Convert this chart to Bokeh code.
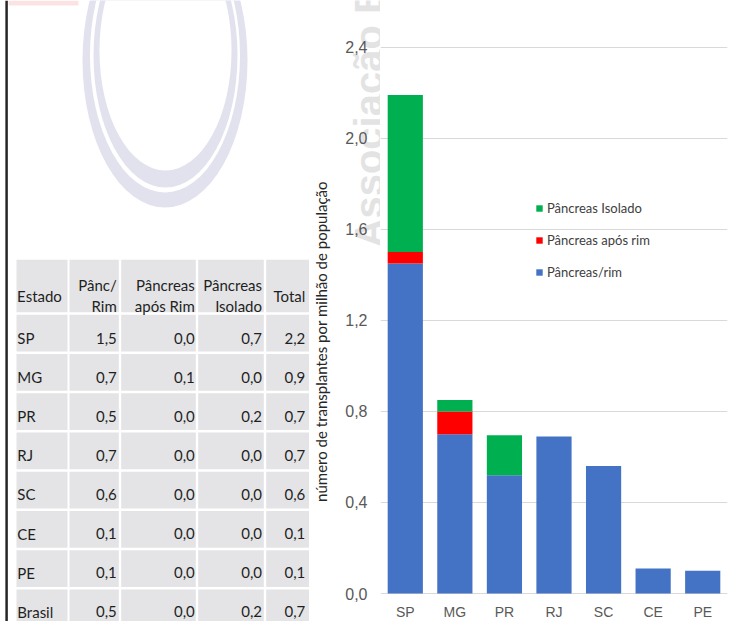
import math
from bokeh.plotting import figure
from bokeh.models import (Range1d, FactorRange, FixedTicker, Legend, LegendItem,
                          ColumnDataSource)
from bokeh.layouts import row
from bokeh.core.properties import value
from bokeh.embed import file_html
from bokeh.resources import INLINE

# ---------------- data ----------------
estados = ["SP", "MG", "PR", "RJ", "SC", "CE", "PE"]
panc_rim = [1.45, 0.70, 0.52, 0.69, 0.56, 0.11, 0.10]
panc_apos_rim = [0.05, 0.10, 0.0, 0.0, 0.0, 0.0, 0.0]
panc_isolado = [0.69, 0.05, 0.175, 0.0, 0.0, 0.0, 0.0]
series_names = ["Pâncreas/rim", "Pâncreas após rim", "Pâncreas Isolado"]
series_colors = ["#4472c4", "#ff0000", "#00b050"]
y_ticks = [0.0, 0.4, 0.8, 1.2, 1.6, 2.0, 2.4]
y_title = "número de transplantes por milhão de população"
watermark = "Associação B"

tabela_cabecalho = ["Estado", "Pânc/\nRim", "Pâncreas\napós Rim", "Pâncreas\nIsolado", "Total"]
tabela_estados = ["SP", "MG", "PR", "RJ", "SC", "CE", "PE", "Brasil"]
tabela_panc_rim = [1.5, 0.7, 0.5, 0.7, 0.6, 0.1, 0.1, 0.5]
tabela_apos_rim = [0.0, 0.1, 0.0, 0.0, 0.0, 0.0, 0.0, 0.0]
tabela_isolado = [0.7, 0.0, 0.2, 0.0, 0.0, 0.0, 0.0, 0.2]
tabela_total = [2.2, 0.9, 0.7, 0.7, 0.6, 0.1, 0.1, 0.7]

# ---------------- layout constants (px) ----------------
W, H = 734, 621
LEFT_W = 380               # left panel: table, axis title, tick labels
RIGHT_W = W - LEFT_W       # chart panel
ZERO_PX = 593              # pixel row of value 0
PX_PER_UNIT = 227.6        # pixels per unit on the value axis
XLABEL_PX = 611            # pixel row of the category labels

VAL_START = (ZERO_PX - H) / PX_PER_UNIT
VAL_END = ZERO_PX / PX_PER_UNIT

def fmt(v):
    return f"{v:.1f}".replace(".", ",")

# ---------------- left figure ----------------
lt = figure(width=LEFT_W, height=H, x_range=Range1d(0, LEFT_W), y_range=Range1d(H, 0),
            x_axis_type=None, y_axis_type=None, toolbar_location=None,
            output_backend="svg", min_border=0, outline_line_color=None)
lt.background_fill_color = "white"
lt.border_fill_color = "white"
lt.extra_y_ranges = {"val": Range1d(VAL_START, VAL_END)}

# faint logo watermark (pink shapes + rings)
lt.quad(left=[8, 112], right=[78, 180], top=[0, 0], bottom=[5, 6],
        fill_color="#fbe3e3", line_color=None)
ring = "#e2e2ef"
lt.ellipse(x=[164.5], y=[60], width=[165], height=[294], fill_color=ring, line_color=None)
lt.ellipse(x=[164.5], y=[55], width=[150], height=[274], fill_color="white", line_color=None)
lt.ellipse(x=[165], y=[55], width=[144], height=[264], fill_color=ring, line_color=None)
lt.ellipse(x=[165], y=[50], width=[132], height=[240], fill_color="white", line_color=None)

# black vertical rule
lt.segment(x0=[6.1], y0=[0], x1=[6.1], y1=[H], line_width=2.5, line_color="#262626")

col_edges = [(16, 67), (69, 118.3), (120.7, 195.3), (197.7, 263.3), (265.7, 308.5)]
col_text_right = [None, 116.3, 194.3, 261.5, 304.8]
hdr_top, hdr_bot = 259.3, 311.7
cell_top0, cell_pitch, cell_h = 314.3, 39.25, 36.7

cl, cr, ct, cb = [], [], [], []
nrows = len(tabela_estados)
for (l, r) in col_edges:
    cl.append(l); cr.append(r); ct.append(hdr_top); cb.append(hdr_bot)
    for i in range(nrows):
        top = cell_top0 + i * cell_pitch
        bot = top + cell_h if i < nrows - 1 else H + 10
        cl.append(l); cr.append(r); ct.append(top); cb.append(bot)
lt.quad(left=cl, right=cr, top=ct, bottom=cb, fill_color="#e4e4e6", line_color=None)

TF = value("Lato")
TS = "15px"
TC = "#1f1f1f"

# header
hx, hy, htxt, halign = [], [], [], []
for j, h in enumerate(tabela_cabecalho):
    lines = h.split("\n")
    xpos = (col_edges[0][0] + 0.6) if j == 0 else col_text_right[j]
    ys = [295.0] if len(lines) == 1 else [284.5, 305.0]
    for ln, yy in zip(lines, ys):
        hx.append(xpos); hy.append(yy); htxt.append(ln)
        halign.append("left" if j == 0 else "right")
hsrc = ColumnDataSource(dict(x=hx, y=hy, t=htxt, a=halign))
lt.text(x="x", y="y", text="t", text_align="a", text_baseline="alphabetic",
        text_font=TF, text_font_size=TS, text_color=TC, source=hsrc)

# body
bx, by, bt, ba = [], [], [], []
cols = [tabela_panc_rim, tabela_apos_rim, tabela_isolado, tabela_total]
for i, est in enumerate(tabela_estados):
    base = 337.5 + i * 39.1
    bx.append(col_edges[0][0] + 0.8); by.append(base); bt.append(est); ba.append("left")
    for j, colv in enumerate(cols):
        bx.append(col_text_right[j + 1]); by.append(base); bt.append(fmt(colv[i])); ba.append("right")
bsrc = ColumnDataSource(dict(x=bx, y=by, t=bt, a=ba))
lt.text(x="x", y="y", text="t", text_align="a", text_baseline="alphabetic",
        text_font=TF, text_font_size=TS, text_color=TC, source=bsrc)

# watermark text (behind tick labels); runs off the top edge as in the original
lt.text(x=[368], y=[247], text=[watermark], angle=math.pi / 2, text_align="left",
        text_baseline="alphabetic", text_font=value("Liberation Sans"),
        text_font_style="bold", text_font_size="40px", text_color="#e3e3e3")

# value-axis title
lt.text(x=[320], y=[341], text=[y_title], angle=math.pi / 2, text_align="center",
        text_baseline="middle", text_font=value("Lato"), text_font_size="15px",
        text_color="#262626")

# value-axis tick labels (placed through the value scale)
tsrc = ColumnDataSource(dict(v=y_ticks, t=[fmt(v) for v in y_ticks], x=[367] * len(y_ticks)))
lt.text(x="x", y="v", text="t", y_range_name="val", text_align="right",
        text_baseline="middle", text_font=value("Liberation Sans"),
        text_font_size="16px", text_color="#595959", source=tsrc)

# ---------------- right figure: stacked bars ----------------
ch = figure(width=RIGHT_W, height=H, x_range=FactorRange(*estados),
            y_range=Range1d(VAL_START, VAL_END), x_axis_location=None,
            y_axis_location=None, toolbar_location=None, output_backend="svg",
            min_border_left=0, min_border_right=7, min_border_top=0,
            min_border_bottom=0, outline_line_color=None)
ch.background_fill_color = "white"
ch.border_fill_color = "white"

ch.xgrid.grid_line_color = None
ch.ygrid.ticker = FixedTicker(ticks=y_ticks)
ch.ygrid.grid_line_color = "#d9d9d9"
ch.ygrid.grid_line_width = 1

src = ColumnDataSource(dict(estado=estados, rim=panc_rim, apos=panc_apos_rim, isol=panc_isolado))
rs = ch.vbar_stack(["rim", "apos", "isol"], x="estado", width=0.71, source=src,
                   fill_color=series_colors, line_color=None)

# category labels (placed through the category scale)
xl_y = (ZERO_PX - XLABEL_PX) / PX_PER_UNIT
xsrc = ColumnDataSource(dict(x=estados, y=[xl_y] * len(estados)))
ch.text(x="x", y="y", text="x", text_align="center", text_baseline="middle",
        text_font=value("Liberation Sans"), text_font_size="14px",
        text_color="#595959", source=xsrc)

legend = Legend(items=[LegendItem(label=value(series_names[k]), renderers=[rs[k]]) for k in (2, 1, 0)],
                location=(155, H - 282.3), orientation="vertical", padding=0, margin=0,
                spacing=12, glyph_width=8, glyph_height=8, label_standoff=4,
                label_height=20, label_text_font="Lato", label_text_font_size="13px",
                label_text_color="#404040", border_line_color=None,
                background_fill_alpha=0)
ch.add_layout(legend)

layout = row(lt, ch)
open("out.html", "w").write(file_html(layout, INLINE))
